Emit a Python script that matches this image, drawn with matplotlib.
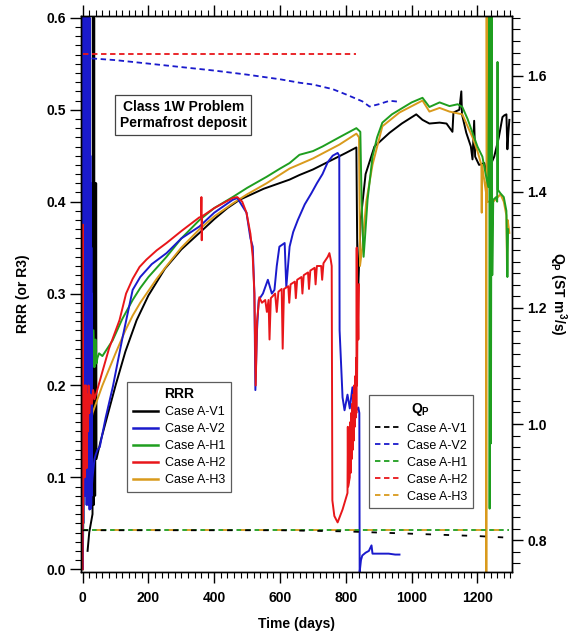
import matplotlib
matplotlib.use("Agg")
import matplotlib.pyplot as plt
from matplotlib.ticker import MultipleLocator
from matplotlib.lines import Line2D

plt.rcParams['font.family'] = ['Liberation Sans', 'DejaVu Sans']
plt.rcParams['mathtext.fontset'] = 'custom'
plt.rcParams['mathtext.rm'] = 'Liberation Sans'
plt.rcParams['mathtext.bf'] = 'Liberation Sans:bold'
plt.rcParams['mathtext.it'] = 'Liberation Sans:italic'

# ---------------- data: RRR (left axis) ----------------
v1_days = [15, 20, 25, 30, 31, 32, 33, 34, 35, 36, 37, 38, 39, 40, 41, 42,
           55, 70, 100, 130, 164, 200, 250, 300, 355, 400, 440, 477, 550, 629, 659, 700, 750, 800, 832,
           836, 845, 860, 887, 933, 970, 1014, 1033, 1054, 1085, 1106, 1124, 1127, 1145, 1151,
           1153, 1166, 1180, 1185, 1190, 1193, 1205, 1221, 1230, 1240, 1251, 1265, 1276, 1282,
           1288, 1291, 1294, 1297]
v1_rrr = [0.02, 0.04, 0.05, 0.06, 0.6, 0.1, 0.6, 0.07, 0.6, 0.1, 0.42, 0.08, 0.42, 0.12, 0.42, 0.12,
          0.14, 0.16, 0.2, 0.237, 0.271, 0.298, 0.327, 0.348, 0.366, 0.381, 0.393, 0.402, 0.414, 0.424,
          0.429, 0.435, 0.444, 0.453, 0.459,
          0.29, 0.38, 0.43, 0.46, 0.475, 0.485, 0.495, 0.489, 0.485, 0.486, 0.485, 0.476, 0.497, 0.5, 0.52,
          0.495, 0.475, 0.46, 0.446, 0.488, 0.449, 0.44, 0.442, 0.427, 0.44, 0.449, 0.47, 0.492, 0.494,
          0.495, 0.457, 0.475, 0.489]

v2_days = [0, 1, 1.5, 2, 2.5, 3, 3.5, 4, 4.5, 5, 5.5, 6, 6.5, 7, 7.5, 8, 8.5, 9, 9.5, 10, 10.5, 11,
           11.5, 12, 12.5, 13, 13.5, 14, 14.5, 15, 15.5, 16, 16.5, 17, 17.5, 18, 18.5, 19, 19.5, 20,
           20.5, 21, 21.5, 22, 22.5, 23, 23.5, 24, 24.5, 25, 25.5, 26, 26.5, 27, 27.5, 28, 30, 33, 36,
           40, 45,
           52, 70, 92, 120, 152, 175, 210, 255, 300, 355, 400, 456, 470, 498, 510, 517, 522, 525, 530,
           535, 548, 563, 575, 583, 590, 598, 614, 619, 629, 640, 654, 675, 695, 712, 729, 745, 760,
           775, 780, 781, 790, 796, 805, 812, 820, 826, 832, 838, 841, 842, 846, 850, 860, 870, 878,
           881, 900, 930, 950, 963]
v2_rrr = [0.0, 0.0, 0.6, 0.05, 0.6, 0.1, 0.6, 0.08, 0.6, 0.15, 0.6, 0.1, 0.6, 0.2, 0.6, 0.12, 0.6,
          0.09, 0.6, 0.08, 0.6, 0.1, 0.6, 0.07, 0.6, 0.12, 0.6, 0.09, 0.6, 0.08, 0.6, 0.1, 0.6, 0.07,
          0.6, 0.09, 0.6, 0.08, 0.6, 0.07, 0.55, 0.065, 0.6, 0.07, 0.5, 0.066, 0.45, 0.07, 0.42, 0.066,
          0.4, 0.07, 0.35, 0.08, 0.3, 0.09, 0.1, 0.11, 0.12, 0.125, 0.13,
          0.133, 0.165, 0.199, 0.25, 0.304, 0.318, 0.332, 0.344, 0.36, 0.373, 0.388, 0.402, 0.404,
          0.388, 0.36, 0.351, 0.3, 0.195, 0.26, 0.293, 0.30, 0.315, 0.30, 0.304, 0.33, 0.351, 0.355,
          0.307, 0.351, 0.367, 0.38, 0.397, 0.409, 0.42, 0.43, 0.443, 0.45, 0.453, 0.45, 0.26, 0.187,
          0.173, 0.19, 0.175, 0.198, 0.176, 0.173, 0.176, 0.17, -0.003, 0.01, 0.015, 0.018, 0.02,
          0.026, 0.017, 0.017, 0.017, 0.016, 0.016]

h1_days = [0, 2, 4, 6, 8, 10, 12, 14, 16, 18, 20, 22, 24, 26, 28, 30, 33, 36, 39, 42, 45, 50,
           60, 91, 120, 152, 175, 200, 225, 255, 300, 355, 400, 456, 500, 559, 600, 629, 659, 700,
           729, 780, 832, 844, 848, 854, 858, 866, 881, 895, 911, 940, 963, 1000, 1033, 1054, 1085,
           1115, 1140, 1154, 1170, 1185, 1200, 1215, 1225, 1233, 1236, 1237, 1239, 1241, 1243, 1245,
           1248, 1257, 1260, 1261, 1262, 1270, 1280, 1288, 1291, 1293]
h1_rrr = [0.0, 0.05, 0.3, 0.1, 0.31, 0.15, 0.3, 0.12, 0.28, 0.2, 0.3, 0.18, 0.3, 0.2, 0.28, 0.22, 0.26,
          0.22, 0.25, 0.224, 0.23, 0.235,
          0.232, 0.249, 0.272, 0.293, 0.306, 0.318, 0.328, 0.34, 0.36, 0.38, 0.393, 0.405, 0.415,
          0.427, 0.436, 0.442, 0.451, 0.455, 0.46, 0.47, 0.48, 0.476, 0.40, 0.34, 0.36, 0.402, 0.449,
          0.47, 0.486, 0.495, 0.5, 0.508, 0.513, 0.503, 0.508, 0.504, 0.506, 0.503, 0.49, 0.475, 0.46,
          0.449, 0.43, 0.416, 0.61, 0.066, 0.61, 0.137, 0.61, 0.32, 0.402, 0.405, 0.40, 0.552, 0.413,
          0.409, 0.405, 0.39, 0.318, 0.37]

h2_days = [0, 0.5, 1, 2, 3, 4, 5, 6, 7, 8, 10, 12, 14, 16, 18, 20, 24, 28, 32, 36, 40, 42,
           60, 80, 112, 132, 152, 173, 194, 225, 255, 300, 355, 360, 361, 362, 363, 400, 456, 470,
           485, 498, 510, 517, 522, 526, 530, 537, 545, 555, 560, 565, 568, 572, 585, 590, 595, 605,
           608, 612, 625, 628, 632, 645, 648, 652, 665, 668, 672, 685, 688, 692, 705, 708, 712, 725,
           728, 732, 745, 750, 754, 757, 759, 765, 775, 790, 805, 806, 807, 812, 813, 815, 816, 818,
           819, 821, 822, 824, 825, 827, 828, 830, 831, 832, 833, 834, 836, 838, 840]
h2_rrr = [0.0, 0.375, 0.05, 0.1, 0.2, 0.12, 0.19, 0.1, 0.2, 0.13, 0.2, 0.11, 0.19, 0.15, 0.2, 0.17,
          0.19, 0.18, 0.195, 0.185, 0.19, 0.192,
          0.215, 0.24, 0.271, 0.3, 0.316, 0.329, 0.337, 0.347, 0.355, 0.368, 0.383, 0.383, 0.405,
          0.358, 0.384, 0.393, 0.404, 0.405, 0.40, 0.388, 0.365, 0.34, 0.30, 0.2, 0.27, 0.296, 0.29,
          0.293, 0.28, 0.293, 0.25, 0.295, 0.30, 0.28, 0.302, 0.305, 0.24, 0.305, 0.308, 0.29, 0.31,
          0.313, 0.295, 0.315, 0.318, 0.30, 0.32, 0.323, 0.305, 0.325, 0.328, 0.31, 0.33, 0.33, 0.315,
          0.333, 0.34, 0.344, 0.337, 0.33, 0.075, 0.058, 0.051, 0.065, 0.083, 0.155, 0.09, 0.1, 0.16,
          0.105, 0.17, 0.12, 0.18, 0.13, 0.19, 0.14, 0.2, 0.155, 0.21, 0.165, 0.23, 0.17, 0.35, 0.2,
          0.3, 0.25, 0.31]

h3_days = [0, 1, 2, 3, 5, 8, 12, 20, 30, 40, 45,
           60, 100, 130, 152, 175, 200, 225, 255, 300, 355, 400, 456, 500, 559, 629, 700, 780, 832,
           840, 843, 850, 862, 881, 911, 963, 1033, 1054, 1085, 1115, 1154, 1185, 1200, 1212, 1213,
           1214, 1222, 1226, 1227, 1228, 1229, 1248, 1257, 1270, 1280, 1288, 1290, 1292, 1297]
h3_rrr = [0.0, 0.2, 0.05, 0.19, 0.1, 0.13, 0.14, 0.15, 0.17, 0.18, 0.185,
          0.2, 0.235, 0.26, 0.276, 0.29, 0.303, 0.316, 0.33, 0.35, 0.37, 0.384, 0.398, 0.408, 0.42,
          0.436, 0.447, 0.462, 0.474, 0.47, 0.33, 0.35, 0.4, 0.44, 0.482, 0.497, 0.51, 0.498, 0.502,
          0.498, 0.495, 0.47, 0.455, 0.44, 0.388, 0.44, 0.42, 0.41, -0.01, 0.61, 0.40, 0.4, 0.403,
          0.408, 0.4, 0.385, 0.322, 0.38, 0.366]

# ---------------- data: Q_P (right axis) ----------------
qv1_days = [0, 200, 400, 600, 700, 800, 850, 900, 1000, 1100, 1200, 1300]
qv1 = [0.817, 0.817, 0.817, 0.817, 0.816, 0.815, 0.814, 0.813, 0.811, 0.809, 0.807, 0.804]
qv2_days = [0, 100, 200, 300, 400, 500, 600, 660, 700, 760, 800, 850, 872, 900, 933, 966]
qv2 = [1.631, 1.627, 1.621, 1.615, 1.609, 1.602, 1.594, 1.588, 1.585, 1.577, 1.568, 1.556,
       1.547, 1.551, 1.557, 1.555]
qh1_days = [0, 400, 800, 1200, 1297]
qh1 = [0.817, 0.817, 0.817, 0.817, 0.817]
qh2_days = [0, 400, 832]
qh2 = [1.638, 1.638, 1.638]
qh3_days = [0, 400, 800, 1200, 1297]
qh3 = [0.817, 0.817, 0.817, 0.817, 0.817]

case_labels = ['Case A-V1', 'Case A-V2', 'Case A-H1', 'Case A-H2', 'Case A-H3']
c_black, c_blue, c_green, c_red, c_orange = '#000000', '#1a1acc', '#1f9e1f', '#e8161a', '#d99a1c'
colors = [c_black, c_blue, c_green, c_red, c_orange]

fig = plt.figure(figsize=(5.84, 6.38), dpi=100)
ax = fig.add_axes([0.1387, 0.1034, 0.738, 0.8715])
ax2 = ax.twinx()

lw = 1.4
ax.plot(v1_days, v1_rrr, color=c_black, lw=lw)
ax.plot(h3_days, h3_rrr, color=c_orange, lw=lw)
ax.plot(h1_days, h1_rrr, color=c_green, lw=lw)
ax.plot(v2_days, v2_rrr, color=c_blue, lw=lw)
ax.plot(h2_days, h2_rrr, color=c_red, lw=lw)

dash = (0, (3, 2))
ax2.plot(qh1_days, qh1, color=c_green, lw=1.3, ls=(0, (3, 2)))
ax2.plot(qh3_days, qh3, color=c_orange, lw=1.3, ls=(2.5, (3, 7)))
ax2.plot(qv1_days, qv1, color=c_black, lw=1.3, ls=(0, (3, 7)))
ax2.plot(qv2_days, qv2, color=c_blue, lw=1.3, ls=dash)
ax2.plot(qh2_days, qh2, color=c_red, lw=1.3, ls=dash)

ax.set_xlim(-5, 1305)
ax.set_ylim(-0.003, 0.602)
ax2.set_ylim(0.745, 1.703)

ax.xaxis.set_major_locator(MultipleLocator(200))
ax.xaxis.set_minor_locator(MultipleLocator(20))
ax.yaxis.set_major_locator(MultipleLocator(0.1))
ax.yaxis.set_minor_locator(MultipleLocator(0.01))
ax2.yaxis.set_major_locator(MultipleLocator(0.2))
ax2.yaxis.set_minor_locator(MultipleLocator(0.02))
ax.set_yticks([0.0, 0.1, 0.2, 0.3, 0.4, 0.5, 0.6])
ax.set_yticklabels(['0.0', '0.1', '0.2', '0.3', '0.4', '0.5', '0.6'])
ax2.set_yticks([0.8, 1.0, 1.2, 1.4, 1.6])
ax2.set_yticklabels(['0.8', '1.0', '1.2', '1.4', '1.6'])

ax.tick_params(axis='x', which='both', direction='out', top=True, labeltop=False)
ax.tick_params(axis='x', which='major', length=8, width=1, pad=6)
ax.tick_params(axis='x', which='minor', length=4, width=0.8)
ax.tick_params(axis='y', which='major', length=8, width=1, pad=3)
ax.tick_params(axis='y', which='minor', length=4, width=0.8)
ax2.tick_params(axis='y', which='major', length=8, width=1, pad=3)
ax2.tick_params(axis='y', which='minor', length=5.5, width=0.8)
for lab in ax.get_xticklabels() + ax.get_yticklabels() + ax2.get_yticklabels():
    lab.set_fontweight('bold')
    lab.set_fontsize(10)

ax.set_xlabel('Time (days)', fontweight='bold', fontsize=10, labelpad=8)
ax.set_ylabel('RRR (or R3)', fontweight='bold', fontsize=10, labelpad=12)
ax2.set_ylabel(r'$\mathbf{Q_P}$ (ST m$^\mathbf{3}$/s)', fontweight='bold', fontsize=10,
               rotation=270, labelpad=16)

for sp in list(ax.spines.values()) + list(ax2.spines.values()):
    sp.set_linewidth(1.0)

ax.text(0.237, 0.822, 'Class 1W Problem\nPermafrost deposit', transform=ax.transAxes,
        ha='center', va='center', fontweight='bold', fontsize=10, linespacing=1.2,
        bbox=dict(boxstyle='square,pad=0.35', fc='white', ec='#444444', lw=0.9))

h_solid = [Line2D([], [], color=c, lw=1.8) for c in colors]
leg1 = ax2.legend(h_solid, case_labels, title='RRR', loc='upper left',
                  bbox_to_anchor=(0.107, 0.342), fontsize=9, frameon=True, fancybox=False,
                  edgecolor='#333333', handlelength=2.0, handletextpad=0.6, labelspacing=0.4,
                  borderpad=0.45, borderaxespad=0)
leg1.get_title().set_fontweight('bold')
leg1.get_title().set_fontsize(10)
leg1.get_frame().set_linewidth(0.9)
ax2.add_artist(leg1)

h_dash = [Line2D([], [], color=c, lw=1.3, ls=(0, (3, 2))) for c in colors]
leg2 = ax2.legend(h_dash, case_labels, title=r'$\mathbf{Q_P}$', loc='upper left',
                  bbox_to_anchor=(0.668, 0.318), fontsize=9, frameon=True, fancybox=False,
                  edgecolor='#333333', handlelength=2.0, handletextpad=0.6, labelspacing=0.4,
                  borderpad=0.45, borderaxespad=0)
leg2.get_title().set_fontsize(10)
leg2.get_frame().set_linewidth(0.9)

fig.savefig('out.png', dpi=100)
